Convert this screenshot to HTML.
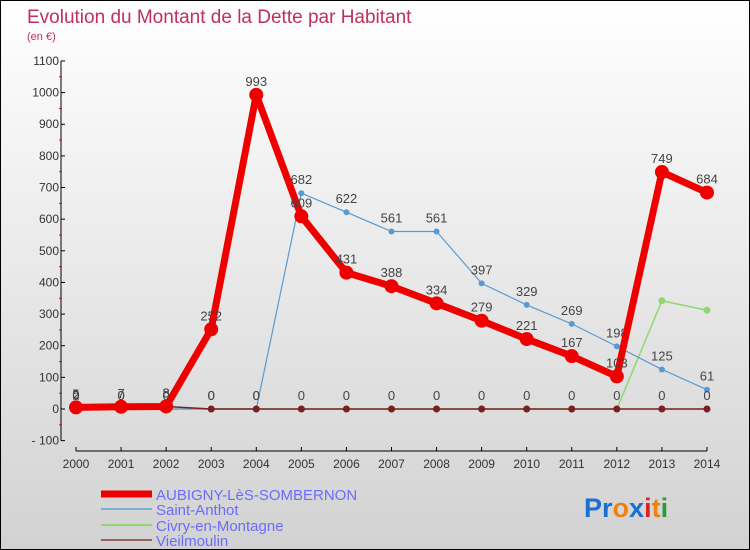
<!DOCTYPE html>
<html><head><meta charset="utf-8"><style>
body{margin:0}
#c{width:750px;height:550px;position:relative;box-sizing:border-box;border:1px solid #000;background:linear-gradient(#fff,#d2d2d2);font-family:"Liberation Sans",sans-serif;overflow:hidden}
</style></head><body>
<div id="c">
<svg id="s" width="748" height="548" style="position:absolute;left:0;top:0">
<text x="26" y="22" font-size="19" fill="#c0305a">Evolution du Montant de la Dette par Habitant</text>
<text x="26" y="39" font-size="11" fill="#c0305a">(en €)</text>
<g id="grid"></g><g id="axes"></g><g id="series"></g><g id="legend"></g>
<text x="583" y="516" font-size="27" font-weight="bold"><tspan fill="#1a6fd0">Pr</tspan><tspan fill="#f08010">o</tspan><tspan fill="#1a6fd0">x</tspan><tspan fill="#e02020">i</tspan><tspan fill="#f08010">t</tspan><tspan fill="#2a9a3a">i</tspan></text>
</svg>
</div>
<script>
const years=[2000,2001,2002,2003,2004,2005,2006,2007,2008,2009,2010,2011,2012,2013,2014];
const aubigny=[5,7,8,252,993,609,431,388,334,279,221,167,103,749,684];
const anthot=[2,0,0,0,0,682,622,561,561,397,329,269,198,125,61];
const civry=[12,0,0,0,0,0,0,0,0,0,0,0,0,342,312];
const vieil=[0,0,8,0,0,0,0,0,0,0,0,0,0,0,0];
const yTicks=[-100,0,100,200,300,400,500,600,700,800,900,1000,1100];
const NS="http://www.w3.org/2000/svg";
const X=i=>75+i*45.07, Y=v=>408-v*0.3164;
function mk(t,a,p){const e=document.createElementNS(NS,t);for(const k in a)e.setAttribute(k,a[k]);p.appendChild(e);return e;}
const ax=document.getElementById('axes');
let l=mk('line',{x1:60,y1:Y(1100),x2:60,y2:Y(-100),stroke:'#000'},ax);

l=mk('line',{x1:X(0),y1:450,x2:X(14),y2:450,stroke:'#000'},ax);

yTicks.forEach(v=>{mk('line',{x1:60,y1:Y(v),x2:64,y2:Y(v),stroke:'#000'},ax);
 if(v<1100)mk('line',{x1:58,y1:Y(v+50),x2:61,y2:Y(v+50),stroke:'#e00'},ax);
 const t=mk('text',{x:58,y:Y(v)+4,'font-size':12,'text-anchor':'end',fill:'#333'},ax);t.textContent=v<0?'- '+(-v):v;
 });
years.forEach((y,i)=>{mk('line',{x1:X(i),y1:446,x2:X(i),y2:450,stroke:'#000'},ax);
 const t=mk('text',{x:X(i),y:467,'font-size':12,'text-anchor':'middle',fill:'#333'},ax);t.textContent=y;
 });
const sg=document.getElementById('series');
function series(d,col,w,r,name,lab){const g=mk('g',{},sg);
 mk('polyline',{points:d.map((v,i)=>X(i)+','+Y(v)).join(' '),fill:'none',stroke:col,'stroke-width':w,'stroke-linejoin':'round'},g);
 d.forEach((v,i)=>{const c=mk('circle',{cx:X(i),cy:Y(v),r:r,fill:col},g);
  if(lab){const t=mk('text',{x:X(i),y:Y(v)-9,'font-size':13,'text-anchor':'middle',fill:'#444'},g);t.textContent=v;}});}
series(civry,'#8fd870',1.5,3.5,'civry-series',false);
series(anthot,'#5a9ad0',1.2,3,'anthot-series',true);
series(vieil,'#7a2020',1.5,3.5,'vieilmoulin-series',true);
series(aubigny,'#ee0000',7,7,'aubigny-series',true);
const lg=document.getElementById('legend');
[['AUBIGNY-LèS-SOMBERNON','#ee0000',7,493],['Saint-Anthot','#7ab0d0',2,508],['Civry-en-Montagne','#8fd870',2,524],['Vieilmoulin','#9a6060',2,539]].forEach(a=>{
 const g=mk('g',{},lg);
 mk('line',{x1:100,y1:a[3],x2:151,y2:a[3],stroke:a[1],'stroke-width':a[2]},g);
 const t=mk('text',{x:155,y:a[3]+6,'font-size':15,fill:'#6b6bff'},g);t.textContent=a[0];});
</script>
</body></html>
